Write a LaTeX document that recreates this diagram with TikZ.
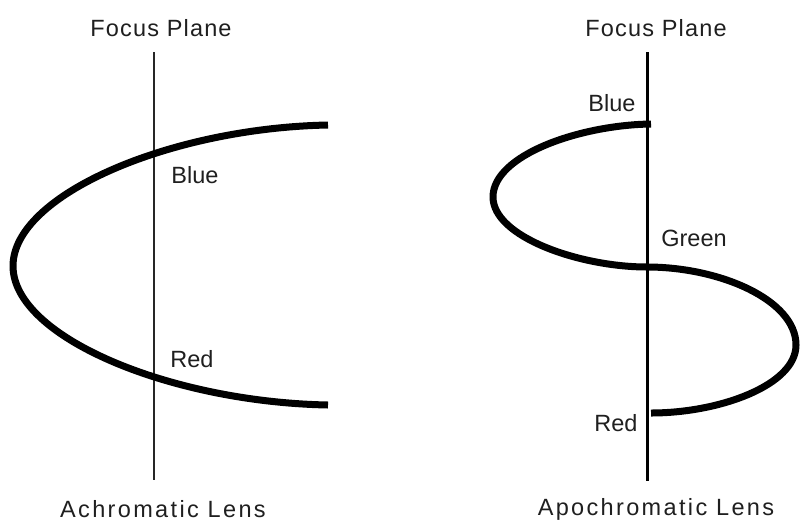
\documentclass[tikz,border=0pt]{standalone}
\usepackage{fontspec}
\setmainfont{Liberation Sans}
\begin{document}
\begin{tikzpicture}[x=1pt,y=-1pt,
  lbl/.style={inner sep=0pt,anchor=center,text=black!88,font=\fontsize{23.5}{26}\selectfont},
  ttl/.style={inner sep=0pt,anchor=center,text=black!88,font=\fontsize{23.5}{26}\selectfont\addfontfeature{LetterSpace=10}},
  fp/.style={inner sep=0pt,anchor=center,text=black!88,font=\fontsize{23.5}{26}\selectfont\addfontfeature{LetterSpace=5}},
  ray/.style={line width=7pt,line cap=butt,line join=round}]
\useasboundingbox (0,0) rectangle (800,523);
% left: achromatic
\coordinate (lt) at (154,52);
\coordinate (lb) at (154,480);
\draw[line width=1.8pt,black!85] (lt) -- (lb);
\coordinate (la) at (328,125);
\coordinate (lm) at (13,266);
\coordinate (lz) at (328,405);
\draw[ray] (la) .. controls (170,128) and (13,195) .. (lm)
           .. controls (13,337) and (170,402) .. (lz);
\node[fp] (fpl) at (161,28) {Focus Plane};
\node[lbl] (bl) at (195,175) {Blue};
\node[lbl] (rl) at (192,359) {Red};
\node[ttl] (al) at (163,509) {Achromatic Lens};
% right: apochromatic
\coordinate (rt) at (647,52);
\coordinate (rb) at (647,481);
\draw[line width=3pt] (rt) -- (rb);
\coordinate (ra) at (651,124);
\coordinate (rl1) at (493,197);
\coordinate (rc) at (647,267);
\coordinate (rr1) at (796,345);
\coordinate (rz) at (651,413);
\draw[ray] (ra) .. controls (580,125) and (493,155) .. (rl1)
           .. controls (493,237) and (580,267) .. (rc)
           .. controls (720,267) and (796,300) .. (rr1)
           .. controls (796,385) and (720,413) .. (rz);
\node[fp] (fpr) at (656,28) {Focus Plane};
\node[lbl] (br) at (612,103) {Blue};
\node[lbl] (gr) at (694,238) {Green};
\node[lbl] (rr) at (616,423) {Red};
\node[ttl] (apr) at (656,509) {Apochromatic Lens};
\end{tikzpicture}
\end{document}
